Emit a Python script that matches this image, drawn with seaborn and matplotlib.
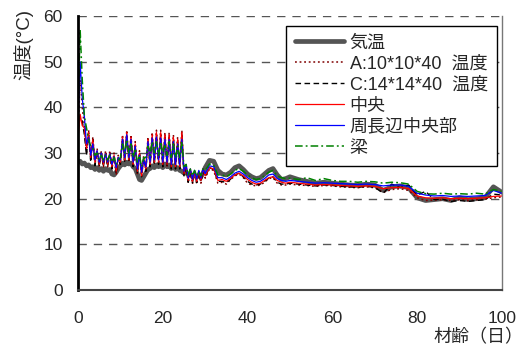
import numpy as np
import pandas as pd
import matplotlib
matplotlib.use("Agg")
import matplotlib.pyplot as plt
import seaborn as sns

# sampling days: half-day steps to day 30, daily to day 50, every 2 days to 100
days = np.r_[np.arange(0, 30.5, 0.5), np.arange(31, 51, 1), np.arange(52, 101, 2)]

air = [28.0, 28.2, 27.6, 27.8, 27.2, 27.4, 26.8, 27.0, 26.4, 26.8, 26.2, 26.6, 26.0, 26.6, 26.2, 26.4,
       25.4, 25.2, 25.8, 26.6, 27.2, 27.8, 27.4, 28.0, 27.6, 27.8, 27.0, 26.6, 25.4, 24.2, 24.0, 24.8,
       25.6, 26.4, 26.6, 27.2, 26.8, 27.4, 27.0, 27.4, 26.8, 27.6, 27.0, 27.4, 26.6, 27.2, 26.4, 26.8,
       26.2, 26.0, 25.6, 25.8, 25.2, 25.4, 24.8, 25.2, 24.8, 25.0, 24.8, 25.6, 26.8,
       28.4, 28.2, 26.2, 25.4, 25.2, 25.8, 26.8, 27.2, 26.4, 25.4, 24.8, 24.4, 24.6, 25.4, 26.2, 26.6,
       25.2, 24.2, 24.4, 24.8,
       24.2, 23.8, 23.4, 23.6, 23.4, 23.2, 23.0, 22.9, 23.2, 23.0, 21.8, 22.6, 22.8, 22.4, 20.2, 19.6,
       19.8, 20.0, 19.6, 20.2, 19.8, 20.0, 20.2, 22.6, 21.4]

temp_a = [34, 46, 40, 36, 30, 35, 28.5, 33.5, 27.5, 31, 27, 30.5, 27, 30.5, 27, 30.5,
          26.5, 30, 25.2, 29.5, 27.5, 34, 28, 35, 28, 34, 27, 32.5, 25.5, 30.5, 24.8, 29.5,
          26, 33.5, 27, 34.5, 27.5, 35, 27.5, 35, 27, 34.5, 27, 34.5, 26.5, 34, 26.5, 33.5,
          26.5, 35, 25, 27, 23.4, 26.5, 23.2, 26, 23.2, 26, 23.4, 26.5, 24.5,
          26.5, 26.2, 23.4, 23.6, 23.2, 24.2, 25, 25.4, 24.6, 23.4, 23, 22.8, 23, 23.6, 24.4, 24.6,
          23.4, 23, 23, 23.2,
          23, 22.9, 22.7, 22.9, 22.8, 22.6, 22.5, 22.4, 22.6, 22.4, 21.4, 22, 22.2, 21.8, 20.2, 19.6,
          19.7, 19.8, 19.6, 19.8, 19.6, 19.8, 19.9, 20.2, 20.4]

temp_c = [35, 38, 37, 34, 29.5, 34.5, 28, 33, 27.2, 30.5, 27, 30, 27, 30, 27, 30,
          26.5, 29.5, 25.5, 29, 27.5, 33, 28, 34, 28, 33, 27, 31.5, 25.5, 30, 24.8, 29,
          26, 32.5, 27, 33.5, 27.5, 34, 27.5, 34, 27, 33.5, 27, 33.5, 26.5, 33, 26.5, 32.5,
          26.5, 34, 25, 27, 23.6, 26.2, 23.5, 25.8, 23.5, 25.8, 23.6, 26.2, 24.8,
          26.8, 26.4, 23.8, 23.8, 23.5, 24.3, 25.2, 25.6, 24.8, 23.8, 23.2, 23, 23.2, 23.8, 24.5, 24.8,
          23.6, 23.2, 23.2, 23.4,
          23.2, 23, 22.8, 23, 22.9, 22.7, 22.6, 22.5, 22.7, 22.5, 21.2, 23.2, 22.4, 23.0, 20.8, 21.6,
          19.8, 19.9, 19.4, 19.6, 19.4, 19.6, 19.8, 21, 20.8]

center = [33, 38.5, 36, 35.5, 31, 34.5, 29, 33, 28, 30.5, 27.5, 30, 27.5, 30, 27.5, 30,
          27, 29.5, 26, 29, 28, 33.5, 28.5, 34.5, 28.5, 33.5, 27.5, 32, 26, 30, 25, 29,
          26.5, 33, 27.5, 34, 28, 34.5, 28, 34.5, 27.5, 34, 27.5, 34, 27, 33.5, 27, 33,
          27, 34.5, 25.5, 27.5, 24, 26.5, 23.8, 26, 23.8, 26, 24, 26.5, 25,
          26.8, 26.5, 24, 24.2, 23.8, 24.5, 25.2, 25.6, 25, 24.2, 23.6, 23.2, 23.4, 24, 24.6, 24.8,
          24, 23.6, 23.4, 23.6,
          23.4, 23.2, 23, 23.1, 23, 22.9, 22.8, 22.7, 22.8, 22.7, 22.2, 22.4, 22.5, 22.2, 20.6, 20.2,
          20.1, 20.2, 20, 20.1, 20, 20.1, 20.2, 20.5, 20.6]

edge_mid = [36, 50, 42, 38, 32, 33.5, 29.5, 32, 28.5, 30.5, 28, 30, 28, 29.8, 28, 29.8,
            27.5, 29.2, 26.8, 29, 28.5, 33, 29, 34, 29, 33, 28, 31.5, 26.5, 29.5, 25.8, 28.5,
            27, 32.5, 28, 33.3, 28.5, 33.5, 28.5, 33.3, 28, 33, 28, 33, 27.5, 32.5, 27.5, 32,
            27.5, 33, 26, 27.5, 24.5, 26.5, 24.3, 26.2, 24.3, 26.2, 24.5, 26.5, 25.5,
            27.2, 27, 24.6, 24.6, 24.2, 24.8, 25.6, 26, 25.4, 24.6, 24, 23.6, 23.8, 24.4, 25.2, 25.4,
            24.4, 24, 23.8, 24,
            23.8, 23.6, 23.4, 23.5, 23.4, 23.3, 23.2, 23.1, 23.2, 23.1, 22.8, 23, 23, 22.7, 21.2, 20.8,
            20.6, 20.7, 20.5, 20.6, 20.5, 20.6, 20.7, 21.8, 21.2]

beam = [40, 57, 46, 38, 35.5, 33, 31.5, 31, 29.5, 30, 28.5, 29.5, 28.5, 29.5, 28.5, 29.5,
        28, 29, 27.5, 28.5, 29, 32, 30, 33, 30, 32, 29, 31, 28, 29.5, 27, 29,
        29, 31.5, 29.5, 32.5, 30, 32.5, 29.5, 32.5, 29.5, 32, 29.5, 32.5, 29, 32, 29, 31.5,
        29, 32.5, 27, 27.5, 25.2, 26.5, 25, 26.2, 25, 26, 25, 26.5, 26.2,
        27.6, 27.4, 25.2, 25.2, 24.8, 25.4, 26.2, 26.6, 26, 25.2, 24.6, 24.2, 24.4, 25, 25.8, 26.2,
        25, 24.6, 24.4, 24.5,
        24.2, 24.6, 24, 24.4, 24, 23.8, 23.8, 23.6, 23.8, 23.7, 23.4, 23.6, 23.5, 23.2, 21.6, 21.1,
        21, 21.2, 21, 21.1, 21, 21.2, 21, 22, 21.6]

labels = ["気温", "A:10*10*40  温度", "C:14*14*40  温度", "中央", "周長辺中央部", "梁"]
x_ticks = [0, 20, 40, 60, 80, 100]
y_ticks = [0, 10, 20, 30, 40, 50, 60]

sns.set_style("white")
plt.rcParams["font.family"] = ["Liberation Sans", "Noto Sans CJK JP", "DejaVu Sans"]

fig = plt.figure(figsize=(5.25, 3.49), dpi=100)
ax = fig.add_axes([0.1486, 0.169, 0.8074, 0.785])

series = [air, temp_a, temp_c, center, edge_mid, beam]
styles = [
    dict(color="#555555", lw=3.4, ls="-"),
    dict(color="#800000", lw=1.1, ls=(0, (1.2, 1.8))),
    dict(color="black", lw=1.0, ls=(0, (4, 2.5))),
    dict(color="red", lw=0.9, ls="-"),
    dict(color="blue", lw=0.9, ls="-"),
    dict(color="green", lw=1.1, ls=(0, (5, 2, 1.2, 2))),
]
for vals, lab, st in zip(series, labels, styles):
    df = pd.DataFrame({"day": days, "val": vals})
    sns.lineplot(data=df, x="day", y="val", ax=ax, estimator=None, label=lab,
                 color=st["color"], linewidth=st["lw"], linestyle=st["ls"])

ax.set_xlim(0, 100)
ax.set_ylim(0, 60)
ax.set_xticks(x_ticks)
ax.set_yticks(y_ticks)
ax.set_xlabel("")
ax.set_ylabel("")
ax.yaxis.grid(True, color="#555555", linestyle=(0, (6, 5)), linewidth=1.0)
ax.xaxis.grid(False)
ax.set_axisbelow(True)

ax.spines["top"].set_visible(False)
ax.spines["left"].set_color("black")
ax.spines["left"].set_linewidth(2.0)
ax.spines["bottom"].set_color("#444444")
ax.spines["bottom"].set_linewidth(1.5)
ax.spines["right"].set_color("#777777")
ax.spines["right"].set_linewidth(1.0)

ax.tick_params(axis="x", direction="in", length=5, width=1, color="#777777",
               labelsize=12.5, pad=15)
ax.tick_params(axis="y", length=0, labelsize=12.5, pad=11)

leg = ax.legend(loc="upper right", bbox_to_anchor=(0.988, 0.965), fontsize=13,
                handlelength=2.7, handletextpad=0.3, labelspacing=0.22,
                borderpad=0.5, borderaxespad=0, frameon=True, fancybox=False, framealpha=1)
leg.get_frame().set_edgecolor("black")
leg.get_frame().set_linewidth(1.0)

fig.text(0.045, 0.975, "温度(°C)", rotation=90, ha="center", va="top", fontsize=13.5)
fig.text(0.997, 0.008, "材齢（日）", ha="right", va="bottom", fontsize=13)

fig.savefig("out.png", dpi=100)
